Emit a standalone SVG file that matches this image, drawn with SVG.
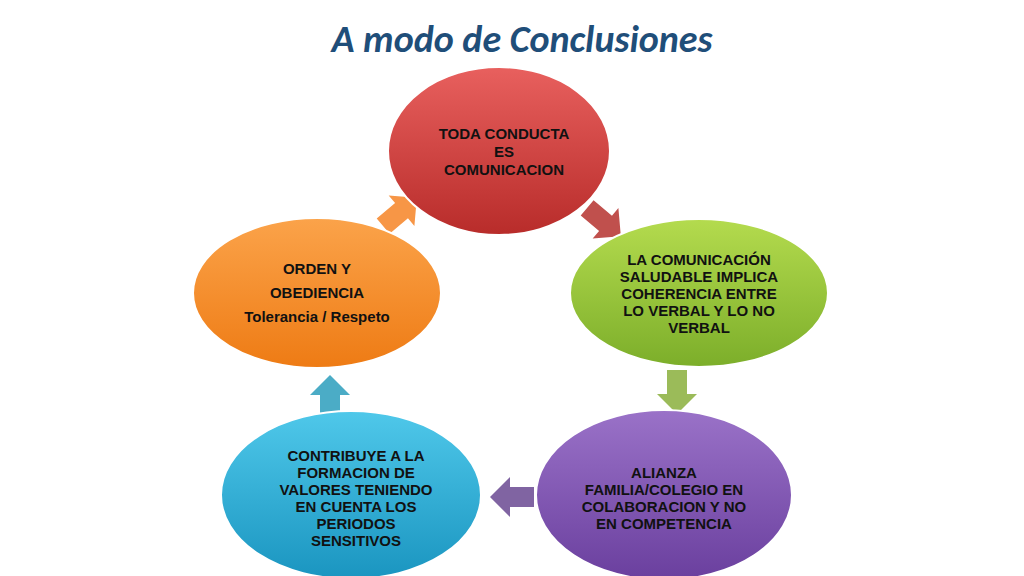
<svg xmlns="http://www.w3.org/2000/svg" width="1024" height="576" viewBox="0 0 1024 576">
<defs>
<linearGradient id="gr" x1="0" y1="0" x2="0" y2="1"><stop offset="0" stop-color="#e8605e"/><stop offset="1" stop-color="#b82c2a"/></linearGradient>
<linearGradient id="gg" x1="0" y1="0" x2="0" y2="1"><stop offset="0" stop-color="#b4db4e"/><stop offset="1" stop-color="#7cae2a"/></linearGradient>
<linearGradient id="gp" x1="0" y1="0" x2="0" y2="1"><stop offset="0" stop-color="#9a72c8"/><stop offset="1" stop-color="#6a3f9e"/></linearGradient>
<linearGradient id="gb" x1="0" y1="0" x2="0" y2="1"><stop offset="0" stop-color="#4fc8ea"/><stop offset="1" stop-color="#1a95c0"/></linearGradient>
<linearGradient id="go" x1="0" y1="0" x2="0" y2="1"><stop offset="0" stop-color="#fba34a"/><stop offset="1" stop-color="#ee7b14"/></linearGradient>
<path id="arr" d="M-22,-10 L2,-10 L2,-20 L22,0 L2,20 L2,10 L-22,10 Z"/>
</defs>
<style>
.t{font-family:"Liberation Sans",Arial,sans-serif;font-weight:bold;font-size:15px;fill:#111;text-anchor:middle}
.e{stroke:#fff;stroke-width:2}
</style>
<rect width="1024" height="576" fill="#fff"/>
<text x="522" y="52" font-family="Calibri,'Liberation Sans',sans-serif" font-weight="bold" font-style="italic" font-size="38" fill="#1f4e79" text-anchor="middle">A modo de Conclusiones</text>
<g id="connectors">
<use href="#arr" fill="#c0504d" transform="translate(604,222) rotate(40)"/>
<use href="#arr" fill="#9bbb59" transform="translate(677,392) rotate(90)"/>
<use href="#arr" fill="#8064a2" transform="translate(512,497) rotate(180)"/>
<use href="#arr" fill="#4bacc6" transform="translate(330,397) rotate(-90)"/>
<use href="#arr" fill="#f79646" transform="translate(400,212) rotate(-40)"/>
</g>
<g id="n1"><ellipse class="e" cx="499" cy="151" rx="111" ry="84" fill="url(#gr)"/>
<text class="t" x="504" y="139">TODA CONDUCTA</text><text class="t" x="504" y="157">ES</text><text class="t" x="504" y="175">COMUNICACION</text></g>
<g id="n2"><ellipse class="e" cx="699" cy="293" rx="129" ry="74" fill="url(#gg)"/>
<text class="t" x="699" y="265">LA COMUNICACIÓN</text><text class="t" x="699" y="282">SALUDABLE IMPLICA</text><text class="t" x="699" y="299">COHERENCIA ENTRE</text><text class="t" x="699" y="316">LO VERBAL Y LO NO</text><text class="t" x="699" y="333">VERBAL</text></g>
<g id="n3"><ellipse class="e" cx="664" cy="495" rx="128" ry="85" fill="url(#gp)"/>
<text class="t" x="664" y="478">ALIANZA</text><text class="t" x="664" y="495">FAMILIA/COLEGIO EN</text><text class="t" x="664" y="512">COLABORACION Y NO</text><text class="t" x="664" y="529">EN COMPETENCIA</text></g>
<g id="n4"><ellipse class="e" cx="351" cy="495" rx="130" ry="84" fill="url(#gb)"/>
<text class="t" x="356" y="461">CONTRIBUYE A LA</text><text class="t" x="356" y="478">FORMACION DE</text><text class="t" x="356" y="495">VALORES TENIENDO</text><text class="t" x="356" y="512">EN CUENTA LOS</text><text class="t" x="356" y="529">PERIODOS</text><text class="t" x="356" y="546">SENSITIVOS</text></g>
<g id="n5"><ellipse class="e" cx="317" cy="293" rx="124" ry="75" fill="url(#go)"/>
<text class="t" x="317" y="274">ORDEN Y</text><text class="t" x="317" y="298">OBEDIENCIA</text><text class="t" x="317" y="322">Tolerancia / Respeto</text></g>
</svg>
